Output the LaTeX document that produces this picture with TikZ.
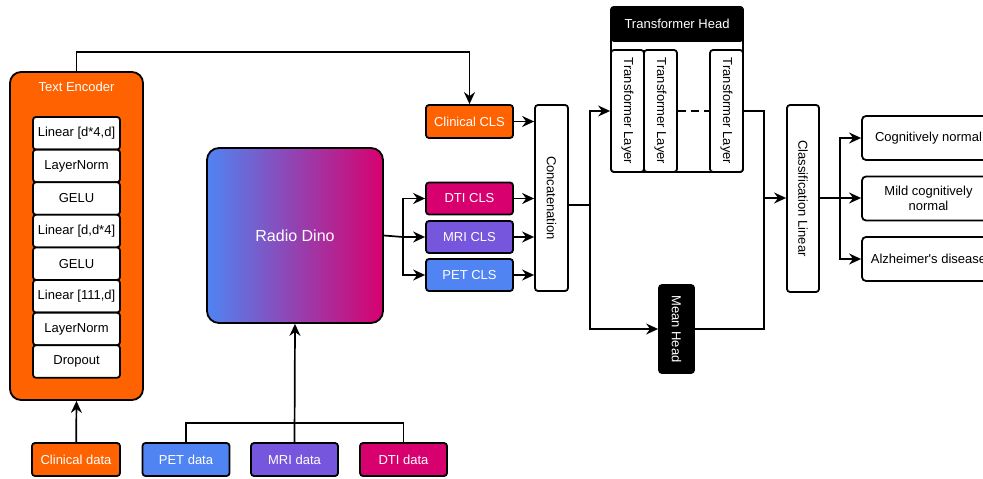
\documentclass[tikz,border=0pt]{standalone}
\usepackage{fontspec}
\setmainfont{Liberation Sans}
\usepackage{xcolor}
\usepackage{tikz}
\usetikzlibrary{arrows.meta,calc}
\definecolor{clinorange}{HTML}{FF6200}
\definecolor{petblue}{HTML}{4F84F2}
\definecolor{mripurple}{HTML}{7656DC}
\definecolor{dtipink}{HTML}{D8006F}
\tikzset{
  box/.style={draw=black, line width=1.8pt, rounded corners=3pt, inner sep=0pt,
    align=center, font=\fontsize{13}{15}\selectfont},
  encbox/.style={box, fill=clinorange, rounded corners=11pt, minimum width=133pt, minimum height=328pt},
  layerbox/.style={box, fill=white, minimum width=87pt, minimum height=32.6pt},
  databox/.style={box, text=white, minimum width=87pt, minimum height=33pt},
  clsbox/.style={box, text=white, minimum width=87pt, minimum height=32pt},
  tallbox/.style={box, fill=white, minimum width=33pt},
  outbox/.style={box, fill=white, rounded corners=4pt, minimum width=133pt, minimum height=44pt},
  line/.style={line width=1.7pt},
  arr/.style={line, -{Stealth[length=12pt,width=11pt,inset=4pt]}}
}

\begin{document}
\begin{tikzpicture}[x=1pt,y=-1pt]
  \useasboundingbox[fill=white] (0,0) rectangle (983,479);

  % text encoder stack
  \node[encbox] (enc) at (76.5,236) {};
  \node[text=white, font=\fontsize{13}{15}\selectfont] at (76.5,87) {Text Encoder};
  \foreach \t [count=\i] in {{Linear [d*4,d]},LayerNorm,GELU,{Linear [d,d*4]},GELU,{Linear [111,d]},LayerNorm,Dropout}
    \node[layerbox] (lay\i) at (76.5,{133.3+32.6*(\i-1)}) {\t};

  % inputs
  \node[databox, fill=clinorange, minimum width=88pt] (clindata) at (76,459.5) {Clinical data};
  \node[databox, fill=petblue] (petdata) at (186,459.5) {PET data};
  \node[databox, fill=mripurple] (mridata) at (294.5,459.5) {MRI data};
  \node[databox, fill=dtipink] (dtidata) at (403.5,459.5) {DTI data};

  % image backbone
  \node[box, rounded corners=12pt, left color=petblue, right color=dtipink, text=white,
    minimum width=176pt, minimum height=175pt, font=\fontsize{16}{18}\selectfont] (dino) at (295,235.5) {Radio Dino};

  % cls tokens
  \node[clsbox, fill=clinorange, minimum height=33pt] (clincls) at (469.5,121.5) {Clinical CLS};
  \node[clsbox, fill=dtipink] (dticls) at (469.5,198.5) {DTI CLS};
  \node[clsbox, fill=mripurple] (mricls) at (469.5,237) {MRI CLS};
  \node[clsbox, fill=petblue] (petcls) at (469.5,275) {PET CLS};
  \node[tallbox, minimum height=186pt] (concat) at (551.5,198) {\rotatebox{-90}{Concatenation}};

  % transformer head
  \node[box, fill=white, minimum width=132pt, minimum height=165pt] (thead) at (677,89.5) {};
  \node[box, fill=black, text=white, minimum width=132pt, minimum height=34pt] (thdr) at (677,24) {Transformer Head};
  \node[tallbox, minimum height=122pt] (tl1) at (627.5,111) {\rotatebox{-90}{Transformer Layer}};
  \node[tallbox, minimum height=122pt] (tl2) at (660.5,111) {\rotatebox{-90}{Transformer Layer}};
  \node[tallbox, minimum height=122pt] (tl3) at (726.5,111) {\rotatebox{-90}{Transformer Layer}};
  \draw[line, dash pattern=on 8pt off 5pt] (tl2.east) -- (tl3.west);

  % mean head
  \node[box, fill=black, text=white, minimum width=35pt, minimum height=88pt] (mean) at (676.5,329) {\rotatebox{-90}{Mean Head}};

  % classifier and outputs
  \node[tallbox, minimum width=32pt, minimum height=187pt] (cls) at (803,198.5) {\rotatebox{-90}{Classification Linear}};
  \node[outbox] (cn) at (928.5,138) {Cognitively normal};
  \node[outbox] (mcn) at (928.5,198.5) {Mild cognitively\\normal};
  \node[outbox] (ad) at (928.5,259) {Alzheimer\textquotesingle s disease};

  % helper points
  \coordinate (enctop) at (76.5,52);
  \coordinate (bus) at (294.5,423);
  \coordinate (split) at (403,237);
  \coordinate (fork) at (590,205);
  \coordinate (join) at (764,198);
  \coordinate (fan) at (840,198);

  % connectors
  \draw[arr] (clindata) -- (enc.south);
  \draw[arr] (enc.north) -- (enctop) -| (clincls.north);
  \draw[line] (petdata.north) |- (bus) -| (dtidata.north);
  \draw[arr] (mridata.north) -- (dino.south);
  \draw[line] (dino.east) -- (split);
  \draw[arr] (split) |- (dticls.west);
  \draw[arr] (split) -- (mricls.west);
  \draw[arr] (split) |- (petcls.west);
  \foreach \c in {clincls,dticls,mricls,petcls}
    \draw[arr] (\c.east) -- (concat.west |- \c.east);
  \draw[line] (concat.east |- fork) -- (fork);
  \draw[arr] (fork) |- (tl1.west);
  \draw[arr] (fork) |- (mean.west);
  \draw[line] (tl3.east) -| (join);
  \draw[line] (mean.east) -| (join);
  \draw[arr] (join) -- (cls.west |- join);
  \draw[line] (cls.east |- fan) -- (fan);
  \draw[arr] (fan) |- (cn.west);
  \draw[arr] (fan) -- (mcn.west |- fan);
  \draw[arr] (fan) |- (ad.west);
\end{tikzpicture}
\end{document}
